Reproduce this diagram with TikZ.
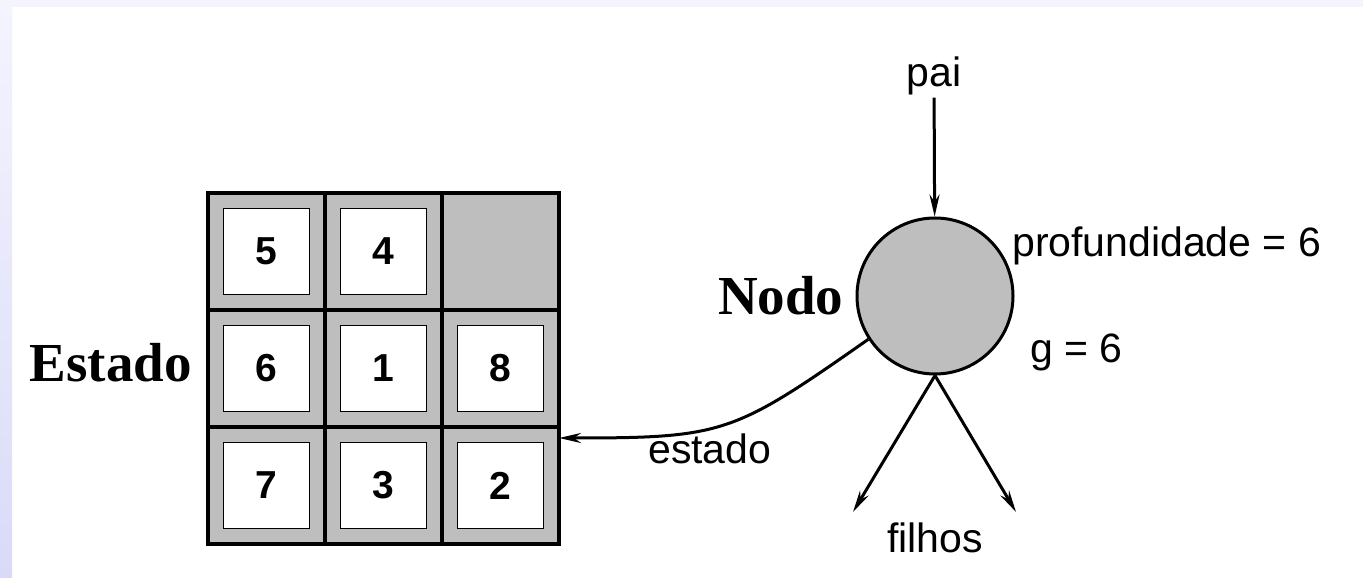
\documentclass[tikz,border=0pt]{standalone}
\usepackage{fontspec}
\setmainfont{Liberation Serif}
\setsansfont{Liberation Sans}
\usetikzlibrary{positioning,arrows.meta}
\definecolor{bandLight}{HTML}{F4F4FE}
\definecolor{bandDark}{HTML}{DADAF8}
\definecolor{cellGray}{HTML}{BEBEBE}

\begin{document}
\begin{tikzpicture}[x=1pt, y=1pt,
  cell/.style={draw, fill=cellGray, line width=3.5pt, minimum size=117pt, inner sep=0pt},
  tile/.style={draw, fill=white, line width=1.8pt, minimum size=86pt, inner sep=0pt,
    font=\sffamily\bfseries\fontsize{39}{39}\selectfont},
  lbl/.style={inner sep=2pt, font=\sffamily\fontsize{41}{41}\selectfont},
  big/.style={inner sep=2pt, font=\bfseries\fontsize{55}{55}\selectfont},
  link/.style={line width=3pt, -{Stealth[length=22pt, width=10pt]}}]

  % fundo
  \fill[white] (0,0) rectangle (1363,578);
  \fill[bandLight] (0,571) rectangle (1363,578);
  \shade[top color=bandLight, bottom color=bandDark] (0,0) rectangle (12,571);
  \useasboundingbox (0,0) rectangle (1363,578);

  % tabuleiro
  \foreach \r in {1,2,3}
    \foreach \c in {1,2,3}
      \node [cell] (cell-\r-\c) at (149.5+117*\c, 443.5-117*\r) {};
  \foreach \r/\c/\n in {1/1/5, 1/2/4, 2/1/6, 2/2/1, 2/3/8, 3/1/7, 3/2/3, 3/3/2}
    \node [tile] (tile-\n) at (cell-\r-\c) {\n};

  \node [big, anchor=base east] (estado-lbl) at (194,196) {Estado};

  % nodo
  \node [circle, draw, fill=cellGray, line width=3pt, minimum size=156pt, inner sep=0pt] (nodo) at (935,282) {};
  \node [big, left=10pt of nodo] (nodo-lbl) {Nodo};

  \node [lbl, anchor=base] (pai) at (934,491) {pai};
  \node [lbl, anchor=base west] (prof) at (1010,321) {profundidade = 6};
  \node [lbl, anchor=base west] (g) at (1028,215) {g = 6};
  \node [lbl, anchor=base west] (estado) at (646,114) {estado};
  \node [lbl, anchor=base] (filhos) at (935,25) {filhos};

  \coordinate (in) at (559,140);
  \coordinate (fl) at (853,66);
  \coordinate (fr) at (1016,66);

  \draw [link] (pai) -- (nodo);
  \draw [link] (nodo.south) -- (fl);
  \draw [link] (nodo.south) -- (fr);
  \draw [link] (nodo.213) to [out=215, in=0, looseness=1.3] (in);
\end{tikzpicture}
\end{document}
